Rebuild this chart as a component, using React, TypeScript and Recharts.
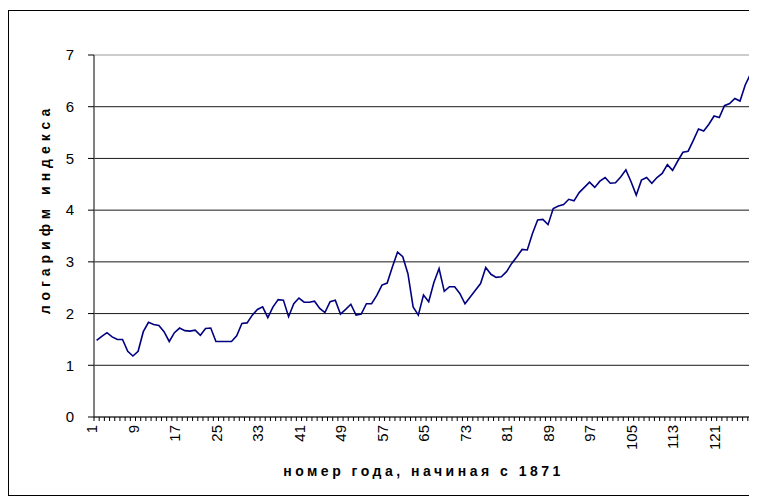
import React from 'react';
import { LineChart, Line, XAxis, YAxis, CartesianGrid, ReferenceArea } from 'recharts';

// logarithm of index, year numbers 1..127 starting from 1871
const values = [
  1.48, 1.56, 1.63, 1.55, 1.50, 1.50, 1.27, 1.18, 1.27, 1.65,
  1.83, 1.79, 1.77, 1.65, 1.46, 1.63, 1.72, 1.67, 1.66, 1.68,
  1.58, 1.71, 1.72, 1.46, 1.46, 1.46, 1.46, 1.57, 1.81, 1.82,
  1.97, 2.08, 2.13, 1.92, 2.13, 2.27, 2.26, 1.94, 2.19, 2.30,
  2.22, 2.22, 2.24, 2.10, 2.02, 2.23, 2.26, 1.99, 2.08, 2.18,
  1.97, 1.99, 2.19, 2.19, 2.35, 2.55, 2.59, 2.90, 3.19, 3.10,
  2.77, 2.13, 1.97, 2.36, 2.23, 2.60, 2.87, 2.43, 2.52, 2.52,
  2.39, 2.19, 2.32, 2.45, 2.58, 2.89, 2.76, 2.70, 2.71, 2.81,
  2.97, 3.10, 3.24, 3.23, 3.55, 3.81, 3.82, 3.72, 4.03, 4.08,
  4.11, 4.21, 4.18, 4.34, 4.44, 4.54, 4.44, 4.56, 4.63, 4.52,
  4.53, 4.64, 4.78, 4.55, 4.29, 4.58, 4.63, 4.52, 4.63, 4.71,
  4.88, 4.77, 4.95, 5.12, 5.14, 5.35, 5.57, 5.53, 5.66, 5.82,
  5.79, 6.02, 6.06, 6.16, 6.11, 6.42, 6.63,
];

const yearNumbers = values.map((_, i) => i + 1);
const xTickLabels = [1, 9, 17, 25, 33, 41, 49, 57, 65, 73, 81, 89, 97, 105, 113, 121];
const yTicks = [0, 1, 2, 3, 4, 5, 6, 7];
const gridValues = [1, 2, 3, 4, 5, 6];
const categoryEdges = [...yearNumbers.map((n) => n - 0.5), yearNumbers.length + 0.5];

const xTitle = 'номер года, начиная с 1871';
const yTitle = 'логарифм индекса';

const data = yearNumbers.map((n, i) => ({ n, v: values[i] }));

const FONT = '"Liberation Sans", Arial, sans-serif';

const XTick = (props: any) => {
  const { x, y, payload } = props;
  const tx = x - 5;
  return (
    <text
      x={tx}
      y={y}
      transform={`rotate(-90 ${tx} ${y})`}
      textAnchor="end"
      dominantBaseline="central"
      fontSize={15}
      fontFamily={FONT}
      fill="#000"
    >
      {payload.value}
    </text>
  );
};

const EmptyTick = () => <g />;

const YTitle = (props: any) => {
  const vb = props.viewBox || { x: 0, y: 0, width: 0, height: 0 };
  const cx = vb.x + 36.5;
  const cy = vb.y + vb.height / 2 - 27;
  return (
    <g>
      {/* outer chart-area frame */}
      <rect x={0.5} y={2.5} width={746} height={485} fill="none" stroke="#000" strokeWidth={1} />
      <text
        x={cx}
        y={cy}
        transform={`rotate(-90 ${cx} ${cy})`}
        textAnchor="middle"
        dominantBaseline="central"
        fontSize={14}
        fontWeight="bold"
        letterSpacing={5}
        fontFamily={FONT}
        fill="#000"
      >
        {yTitle}
      </text>
    </g>
  );
};

const XTitle = (props: any) => {
  const vb = props.viewBox || { x: 0, y: 0, width: 0, height: 0 };
  const cx = vb.x + vb.width / 2;
  const cy = vb.y + 53;
  return (
    <text
      x={cx}
      y={cy}
      textAnchor="middle"
      dominantBaseline="central"
      fontSize={14}
      fontWeight="bold"
      letterSpacing={3.5}
      fontFamily={FONT}
      fill="#000"
    >
      {xTitle}
    </text>
  );
};

export default function App() {
  return (
    <div style={{ width: 749, height: 491 }}>
      <LineChart
        width={749}
        height={491}
        data={data}
        margin={{ top: 47, right: 4, left: 0, bottom: 0 }}
      >
        <ReferenceArea
          xAxisId="b_main"
          x1={0.5}
          x2={yearNumbers.length + 0.5}
          y1={0}
          y2={7}
          fill="#fff"
          fillOpacity={0}
          stroke="#9a9a9a"
          strokeWidth={1}
        />
        <CartesianGrid
          xAxisId="b_main"
          vertical={false}
          horizontalValues={gridValues}
          stroke="#1a1a1a"
          strokeWidth={1}
        />
        <XAxis
          xAxisId="b_main"
          type="number"
          dataKey="n"
          domain={[0.5, yearNumbers.length + 0.5]}
          ticks={xTickLabels}
          interval={0}
          tick={XTick}
          tickLine={false}
          axisLine={false}
          tickSize={0}
          tickMargin={7}
          height={81}
          label={<XTitle />}
        />
        <XAxis
          xAxisId="a_minor"
          type="number"
          dataKey="n"
          domain={[0.5, yearNumbers.length + 0.5]}
          ticks={categoryEdges}
          interval={0}
          tick={EmptyTick}
          tickSize={4}
          height={1}
          axisLine={{ stroke: '#000' }}
          tickLine={{ stroke: '#000' }}
        />
        <YAxis
          type="number"
          domain={[0, 7]}
          ticks={yTicks}
          interval={0}
          width={86}
          tickSize={6}
          tickMargin={14}
          axisLine={{ stroke: '#333' }}
          tickLine={{ stroke: '#000' }}
          tick={{ fontSize: 15, fontFamily: FONT, fill: '#000' }}
          label={<YTitle />}
        />
        <Line
          xAxisId="b_main"
          type="linear"
          dataKey="v"
          stroke="#000080"
          strokeWidth={1.6}
          dot={false}
          isAnimationActive={false}
        />
      </LineChart>
    </div>
  );
}
